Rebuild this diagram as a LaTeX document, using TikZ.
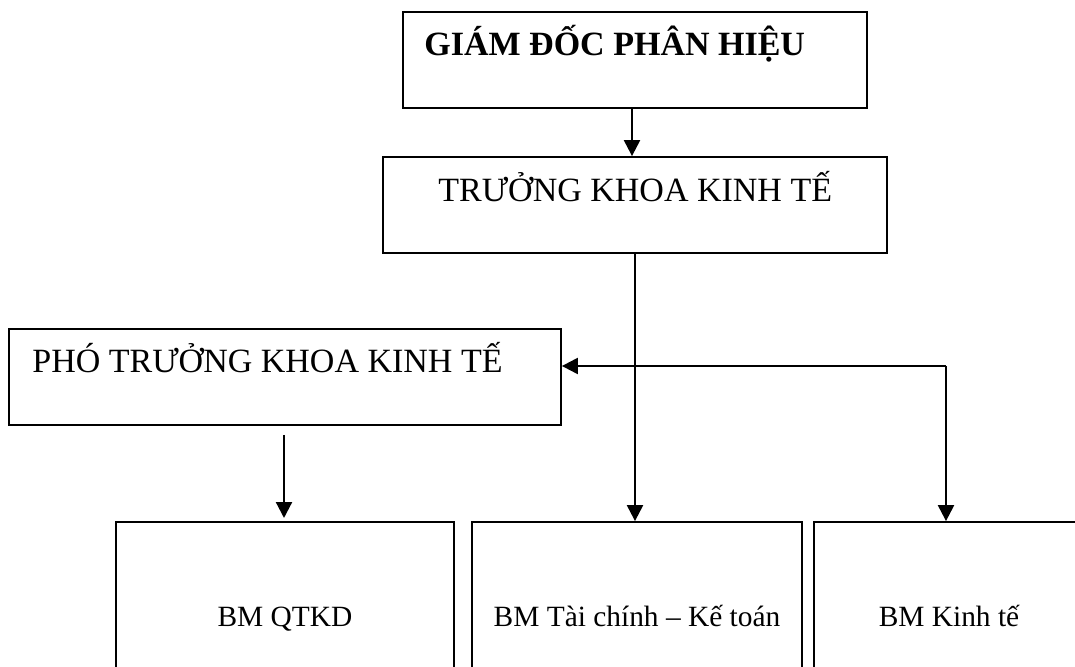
\documentclass[tikz,border=0pt]{standalone}
\usepackage{fontspec}
\setmainfont{Liberation Serif}
\usetikzlibrary{arrows.meta,fit}
\begin{document}
\begin{tikzpicture}[x=0.5pt,y=-0.5pt,
  box/.style={draw=black,line width=0.9pt,inner sep=0pt,rectangle},
  big/.style={inner sep=0pt,anchor=base west,font=\fontsize{17}{20}\selectfont},
  small/.style={inner sep=0pt,anchor=base,font=\fontsize{14.7}{18}\selectfont},
  conn/.style={line width=1.1pt},
  arr/.style={conn,-{Triangle[length=8pt,width=8pt]}}]
\useasboundingbox (0,0) rectangle (1075,667);
\clip (0,0) rectangle (1075,667);
% boxes
\node[box,fit={(403,12) (867,108)}] (gd) {};
\node[box,fit={(383,157) (887,253)}] (tk) {};
\node[box,fit={(9,329) (561,425)}] (pho) {};
\node[box,fit={(116,522) (454,720)}] (qt) {};
\node[box,fit={(472,522) (802,720)}] (tc) {};
\node[box,fit={(814,522) (1078,720)}] (kt) {};
% texts
\node[big,font=\fontsize{17}{20}\selectfont\bfseries] (gdt) at (424,56) {GIÁM ĐỐC PHÂN HIỆU};
\node[big] (tkt) at (438,202) {TRƯỞNG KHOA KINH TẾ};
\node[big] (phot) at (32,373) {PHÓ TRƯỞNG KHOA KINH TẾ};
\node[small] (qtt) at (285,626) {BM QTKD};
\node[small] (tct) at (637,626) {BM Tài chính – Kế toán};
\node[small] (ktt) at (949,626) {BM Kinh tế};
% connectors
\coordinate (gdo) at (632,108);
\draw[arr] (gdo) -- (gdo |- tk.north);
\coordinate (j) at (tk.south |- 0,366);
\draw[arr] (tk.south) -- (tk.south |- tc.north);
\draw[arr] (j) -- (pho.east |- j);
\coordinate (r) at (kt.north |- j);
\draw[conn] (j) -- (r);
\draw[arr] (r) -- (kt.north);
\coordinate (ps) at (284,435);
\coordinate (pe) at (284,518);
\draw[arr] (ps) -- (pe);
\end{tikzpicture}
\end{document}
